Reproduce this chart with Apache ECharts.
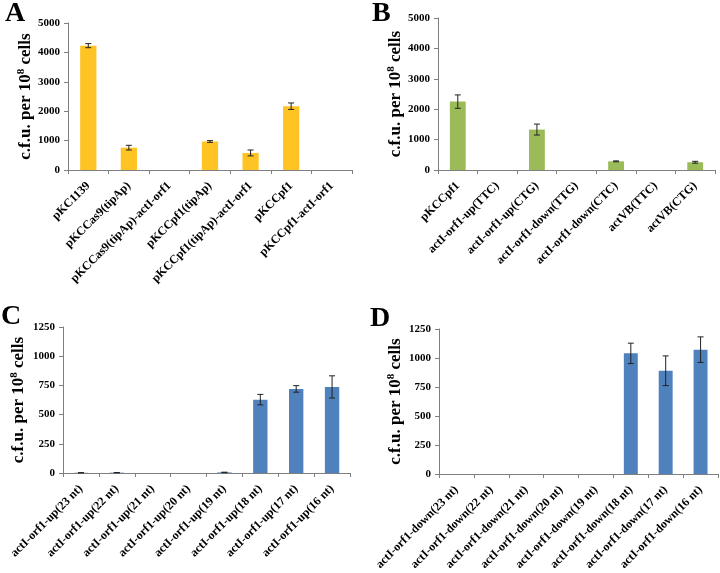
<!DOCTYPE html>
<html><head><meta charset="utf-8">
<script src="https://cdn.jsdelivr.net/npm/echarts@6/dist/echarts.min.js"></script>
<style>html,body{margin:0;padding:0;background:#fff}#c{width:720px;height:573px}</style>
</head><body><div id="c"></div>
<script>
const catsA = ["pKC1139","pKCCas9(tipAp)","pKCCas9(tipAp)-actI-orf1","pKCCpf1(tipAp)","pKCCpf1(tipAp)-actI-orf1","pKCCpf1","pKCCpf1-actI-orf1"];
const valsA = [4230, 760, 0, 970, 580, 2170, 0];
const errA  = [70, 80, 0, 30, 100, 110, 0];

const catsB = ["pKCCpf1","actI-orf1-up(TTC)","actI-orf1-up(CTG)","actI-orf1-down(TTG)","actI-orf1-down(CTC)","actVB(TTC)","actVB(CTG)"];
const valsB = [2250, 0, 1330, 0, 285, 0, 255];
const errB  = [220, 0, 180, 0, 15, 0, 30];

const catsC = ["actI-orf1-up(23 nt)","actI-orf1-up(22 nt)","actI-orf1-up(21 nt)","actI-orf1-up(20 nt)","actI-orf1-up(19 nt)","actI-orf1-up(18 nt)","actI-orf1-up(17 nt)","actI-orf1-up(16 nt)"];
const valsC = [2, 3, 0, 0, 5, 628, 720, 737];
const errC  = [1, 1, 0, 0, 2, 45, 28, 95];

const catsD = ["actI-orf1-down(23 nt)","actI-orf1-down(22 nt)","actI-orf1-down(21 nt)","actI-orf1-down(20 nt)","actI-orf1-down(19 nt)","actI-orf1-down(18 nt)","actI-orf1-down(17 nt)","actI-orf1-down(16 nt)"];
const valsD = [0, 0, 0, 0, 0, 1040, 890, 1072];
const errD  = [0, 0, 0, 0, 0, 88, 128, 110];

const yTitle = "c.f.u. per 10{sup|8} cells";
const serif = "Liberation Serif";
const axisColor = "#7f7f7f";

const panels = [
  {cats: catsA, vals: valsA, errs: errA, color: "#FFC423", max: 5000, interval: 1000, gap: 30, grid: {left: 68, top: 23, width: 284, height: 147}},
  {cats: catsB, vals: valsB, errs: errB, color: "#9BBB59", max: 5000, interval: 1000, gap: 31, grid: {left: 438, top: 18, width: 277, height: 152}},
  {cats: catsC, vals: valsC, errs: errC, color: "#4F81BD", max: 1250, interval: 250, gap: 35, grid: {left: 63, top: 327, width: 287, height: 146}},
  {cats: catsD, vals: valsD, errs: errD, color: "#4F81BD", max: 1250, interval: 250, gap: 34, grid: {left: 439, top: 329, width: 279, height: 145}}
];

const grids = [], xAxes = [], yAxes = [], series = [];
panels.forEach((p, i) => {
  grids.push(p.grid);
  xAxes.push({
    type: 'category', gridIndex: i, data: p.cats,
    axisLine: {lineStyle: {color: axisColor, width: 1}},
    axisTick: {show: true, length: 4, lineStyle: {color: axisColor}},
    axisLabel: {interval: 0, rotate: 45, margin: 14, color: '#000', fontFamily: serif, fontWeight: 'bold', fontSize: 12}
  });
  yAxes.push({
    type: 'value', gridIndex: i, min: 0, max: p.max, interval: p.interval,
    splitLine: {show: false},
    axisLine: {show: true, lineStyle: {color: axisColor, width: 1}},
    axisTick: {show: true, length: 4, lineStyle: {color: axisColor}},
    axisLabel: {color: '#000', fontFamily: serif, fontWeight: 'bold', fontSize: 11, margin: 8,
      formatter: v => String(v)},
    name: yTitle, nameLocation: 'middle', nameRotate: 90, nameGap: p.gap,
    nameTextStyle: {color: '#000', fontFamily: serif, fontWeight: 'bold', fontSize: 17,
      rich: {sup: {fontFamily: serif, fontWeight: 'bold', fontSize: 11, color: '#000', padding: [0, 0, 8, 0]}}}
  });
  series.push({
    type: 'bar', xAxisIndex: i, yAxisIndex: i, data: p.vals, barWidth: '40%',
    itemStyle: {color: p.color}, silent: true
  });
  series.push({
    type: 'custom', xAxisIndex: i, yAxisIndex: i, z: 10, silent: true,
    data: p.vals.map((v, k) => [k, v - p.errs[k], v + p.errs[k]]).filter((d, k) => p.errs[k] > 0),
    encode: {x: 0, y: [1, 2]},
    renderItem: function (params, api) {
      const x = api.value(0);
      const lo = api.coord([x, api.value(1)]);
      const hi = api.coord([x, api.value(2)]);
      const w = 3;
      const st = {stroke: '#222', lineWidth: 1};
      return {type: 'group', children: [
        {type: 'line', shape: {x1: lo[0], y1: lo[1], x2: hi[0], y2: hi[1]}, style: st},
        {type: 'line', shape: {x1: hi[0] - w, y1: hi[1], x2: hi[0] + w, y2: hi[1]}, style: st},
        {type: 'line', shape: {x1: lo[0] - w, y1: lo[1], x2: lo[0] + w, y2: lo[1]}, style: st}
      ]};
    }
  });
});

const letters = [["A", 5, 0], ["B", 372, 0], ["C", 1, 303], ["D", 370, 305]];
const titles = letters.map(l => ({text: l[0], left: l[1], top: l[2], padding: 0,
  textStyle: {fontFamily: serif, fontWeight: 'bold', fontSize: 28, color: '#000'}}));

const chart = echarts.init(document.getElementById('c'), null, {renderer: 'canvas'});
chart.setOption({animation: false, title: titles, grid: grids, xAxis: xAxes, yAxis: yAxes, series: series});
</script></body></html>
